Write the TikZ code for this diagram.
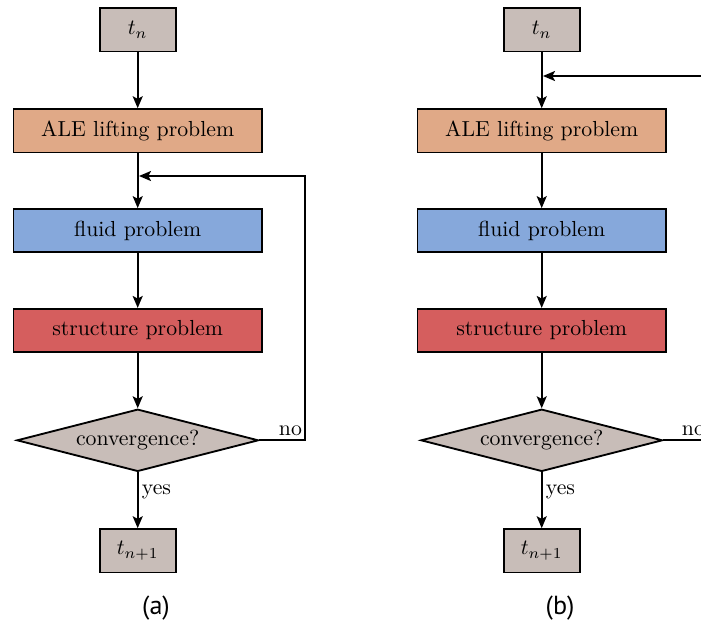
\documentclass[tikz,border=0pt]{standalone}
\usepackage{fontspec}
\newfontfamily\capfont{PT Sans}
\usetikzlibrary{shapes.geometric,arrows.meta,calc}
\definecolor{boxgray}{RGB}{200,189,184}
\definecolor{boxorange}{RGB}{224,169,135}
\definecolor{boxblue}{RGB}{134,168,219}
\definecolor{boxred}{RGB}{213,94,94}
\begin{document}
\begin{tikzpicture}[x=0.4594pt,y=-0.4594pt,line width=0.85pt,
  arr/.style={-{Stealth[length=5.5pt,width=4.6pt,inset=1.2pt]}},
  wide/.style={draw=black,minimum width=114.1pt,minimum height=19.9pt,inner sep=0pt},
  small/.style={draw=black,fill=boxgray,minimum width=35pt,minimum height=19.9pt,inner sep=0pt},
  decision/.style={draw=black,fill=boxgray,shape=diamond,aspect=3.8,minimum width=111pt,minimum height=28.6pt,inner sep=0pt},
  lab/.style={inner sep=1.5pt,font=\normalsize},
  subcap/.style={font=\capfont\fontsize{12}{14}\selectfont}]
\useasboundingbox (0,0) rectangle (701,626);
\clip (0,0) rectangle (701,626);
% ---------- (a) ----------
\node[small] (tnA) at (137.7,29.8) {$t_n$};
\node[wide,fill=boxorange] (aleA) at (137.7,130.8) {ALE lifting problem};
\node[wide,fill=boxblue] (fluidA) at (137.7,230.7) {fluid problem};
\node[wide,fill=boxred] (structA) at (137.7,330.5) {structure problem};
\node[decision] (convA) at (137.7,440.3) {convergence?};
\node[small] (tnpA) at (137.7,550.8) {$t_{n+1}$};
\coordinate (fbA) at (139,176);
\coordinate (cornerA) at (305,440.3);
\draw[arr] (tnA) -- (aleA);
\draw[arr] (aleA) -- (fluidA);
\draw[arr] (fluidA) -- (structA);
\draw[arr] (structA) -- (convA);
\draw[arr] (convA) -- node[pos=0.35,right,lab]{yes} (tnpA);
\draw[arr] (convA.east) -- node[pos=0.68,above,lab]{no} (cornerA) |- (fbA);
\node[subcap] (capA) at (156,608) {(a)};
% ---------- (b) ----------
\node[small] (tnB) at (541.7,29.8) {$t_n$};
\node[wide,fill=boxorange] (aleB) at (541.7,130.8) {ALE lifting problem};
\node[wide,fill=boxblue] (fluidB) at (541.7,230.7) {fluid problem};
\node[wide,fill=boxred] (structB) at (541.7,330.5) {structure problem};
\node[decision] (convB) at (541.7,440.3) {convergence?};
\node[small] (tnpB) at (541.7,550.8) {$t_{n+1}$};
\coordinate (fbB) at (543,76);
\coordinate (inB) at (702,76);
\coordinate (outB) at (730,440.3);
\draw[arr] (tnB) -- (aleB);
\draw[arr] (aleB) -- (fluidB);
\draw[arr] (fluidB) -- (structB);
\draw[arr] (structB) -- (convB);
\draw (convB.east) -- node[pos=0.45,above,lab]{no} (outB);
\draw[arr] (convB) -- node[pos=0.35,right,lab]{yes} (tnpB);
\draw[arr] (inB) -- (fbB);
\node[subcap] (capB) at (560,608) {(b)};
\end{tikzpicture}
\end{document}
